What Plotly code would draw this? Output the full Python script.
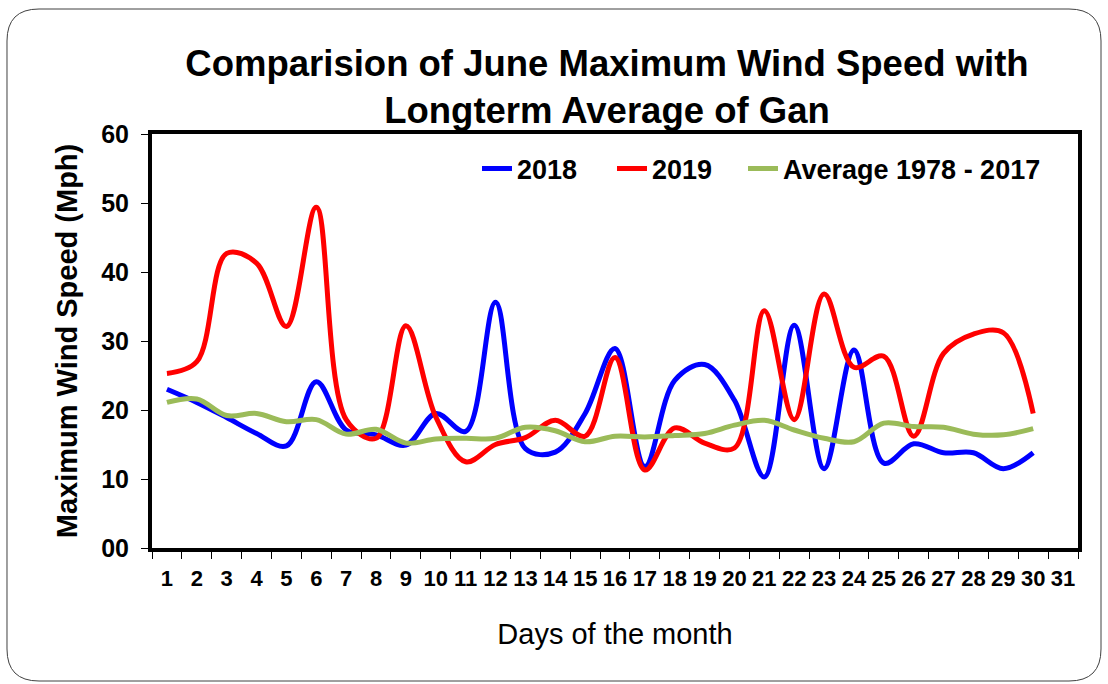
import plotly.graph_objects as go

# ---- data ----
days = [str(d) for d in range(1, 31)]
all_days = [str(d) for d in range(1, 32)]
speed_2018 = [23.0, 21.1, 18.9, 16.6, 14.8, 24.1, 17.1, 16.4, 14.9, 19.5,
              16.9, 35.6, 14.4, 13.9, 19.5, 28.9, 11.8, 24.3, 26.6, 21.4,
              10.3, 32.3, 11.5, 28.7, 12.3, 15.1, 13.8, 13.8, 11.5, 13.8]
speed_2019 = [25.3, 27.0, 42.7, 41.3, 32.1, 49.4, 18.6, 15.9, 32.2, 19.0,
              12.5, 15.0, 16.0, 18.5, 16.2, 27.6, 11.3, 17.4, 15.2, 14.5,
              34.4, 18.6, 36.8, 26.2, 27.8, 16.2, 28.2, 31.0, 31.2, 19.5]
avg_1978_2017 = [21.1, 21.6, 19.2, 19.5, 18.3, 18.6, 16.5, 17.2, 15.2, 15.8,
                 15.9, 15.9, 17.5, 17.0, 15.4, 16.2, 16.1, 16.3, 16.6, 17.8,
                 18.5, 17.1, 15.9, 15.4, 18.1, 17.6, 17.5, 16.5, 16.4, 17.3]
y_tickvals = [0, 10, 20, 30, 40, 50, 60]
y_ticktext = ["00", "10", "20", "30", "40", "50", "60"]

series = [
    ("2018", speed_2018, "#0000FF", 90),
    ("2019", speed_2019, "#FF0000", 86),
    ("Average 1978 - 2017", avg_1978_2017, "#9BBB59", None),
]

FONT = "Liberation Sans, Arial, sans-serif"

fig = go.Figure()
for name, vals, color, lw in series:
    kw = {} if lw is None else {"legendwidth": lw}
    fig.add_trace(go.Scatter(
        x=days, y=vals, name=name, mode="lines",
        line=dict(color=color, width=5, shape="spline", smoothing=1.0),
        **kw,
    ))

W, H = 1108, 684
L, R, T, B = 152, 30, 134, 136
pw, ph = W - L - R, H - T - B


def px2paper(x, y):
    return (x - L) / pw, (H - B - y) / ph


# rounded outer border
x0, y0, x1, y1, r = 7, 9, 1101, 681, 32
def P(x, y):
    a, b = px2paper(x, y)
    return f"{a:.5f},{b:.5f}"
path = (f"M {P(x0 + r, y0)} L {P(x1 - r, y0)} Q {P(x1, y0)} {P(x1, y0 + r)} "
        f"L {P(x1, y1 - r)} Q {P(x1, y1)} {P(x1 - r, y1)} "
        f"L {P(x0 + r, y1)} Q {P(x0, y1)} {P(x0, y1 - r)} "
        f"L {P(x0, y0 + r)} Q {P(x0, y0)} {P(x0 + r, y0)} Z")

fig.add_shape(type="path", path=path, xref="paper", yref="paper",
              line=dict(color="#404040", width=1), layer="below")

fig.update_layout(
    width=W, height=H,
    margin=dict(l=L, r=R, t=T, b=B),
    paper_bgcolor="white", plot_bgcolor="white",
    font=dict(family=FONT, color="black"),
    title=dict(
        text="Comparision of June Maximum Wind Speed with<br>Longterm Average of Gan",
        x=607 / W, xanchor="center", y=1 - 76 / H, yanchor="top",
        font=dict(size=36.5, weight="bold", family=FONT, color="black"),
    ),
    legend=dict(
        orientation="h", x=(477 - L) / pw, xanchor="left", y=(548 - 169) / ph, yanchor="middle",
        font=dict(size=27, weight="bold", family=FONT, color="black"),
        bgcolor="rgba(0,0,0,0)",
    ),
    xaxis=dict(
        type="category", categoryorder="array", categoryarray=all_days,
        range=[-0.5, 30.5], tickmode="array", tickvals=all_days, ticktext=all_days,
        tickson="boundaries", ticks="outside", ticklen=7, tickwidth=1, tickcolor="black",
        tickangle=0, ticklabelstandoff=8,
        tickfont=dict(size=22, weight="bold", family=FONT, color="black"),
        showline=True, linewidth=4, linecolor="black", mirror=True,
        showgrid=False, zeroline=False,
        title=dict(text="Days of the month", standoff=34,
                   font=dict(size=29, family=FONT, color="black")),
    ),
    yaxis=dict(
        range=[0, 60], tickmode="array", tickvals=y_tickvals, ticktext=y_ticktext,
        ticks="outside", ticklen=7, tickwidth=1, tickcolor="black",
        ticklabelstandoff=7,
        tickfont=dict(size=25, weight="bold", family=FONT, color="black"),
        showline=True, linewidth=4, linecolor="black", mirror=True,
        showgrid=False, zeroline=False,
        title=dict(text="Maximum Wind Speed (Mph)", standoff=16,
                   font=dict(size=29, weight="bold", family=FONT, color="black")),
    ),
)

fig.write_html("out.html", config={"displayModeBar": False},
               post_script="document.body.style.margin='0px';")
